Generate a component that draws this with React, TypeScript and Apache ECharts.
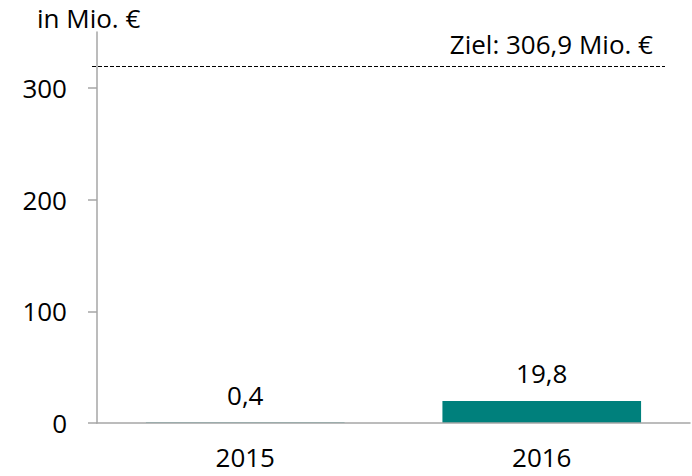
import React, { useEffect, useRef } from "react";
import * as echarts from "echarts";

const categories = ["2015", "2016"];
const values = [0.4, 19.8];
const yTicks = [0, 100, 200, 300];
const targetLevel = 319.5;
const targetLabel = "Ziel: 306,9 Mio. €";
const unitLabel = "in Mio. €";

const FONT = "'Open Sans', 'Liberation Sans', sans-serif";
const FS = 26;

export default function App() {
  const ref = useRef<HTMLDivElement>(null);
  useEffect(() => {
    if (!ref.current) return;
    const chart = echarts.init(ref.current, undefined, { renderer: "svg" });
    chart.setOption({
      animation: false,
      backgroundColor: "#ffffff",
      textStyle: { fontFamily: FONT, color: "#000" },
      title: {
        text: unitLabel,
        left: 37,
        top: 5,
        padding: 0,
        textStyle: { fontFamily: FONT, fontSize: FS, fontWeight: "normal", color: "#000" },
      },
      grid: { left: 97, right: 2, top: 32, bottom: 53, containLabel: false },
      xAxis: {
        type: "category",
        data: categories,
        z: 3,
        axisLine: { show: true, lineStyle: { color: "#a6a6a6", width: 1.5 } },
        axisTick: { show: false },
        axisLabel: { fontSize: FS, color: "#000", margin: 22, lineHeight: 24, fontFamily: FONT },
      },
      yAxis: {
        type: "value",
        min: 0,
        max: 350,
        interval: 100,
        splitLine: { show: false },
        axisLine: { show: true, lineStyle: { color: "#a6a6a6", width: 1.5 } },
        axisTick: { show: true, length: 9, customValues: yTicks, lineStyle: { color: "#a6a6a6", width: 1.5 } },
        axisLabel: { fontSize: FS, color: "#000", margin: 30, fontFamily: FONT, customValues: yTicks },
      },
      series: [
        {
          type: "bar",
          data: values,
          barWidth: "67%",
          itemStyle: { color: "#00807c" },
          label: {
            show: true,
            position: "top",
            distance: 15,
            fontSize: FS,
            color: "#000",
            fontFamily: FONT,
            formatter: (p: any) => String(p.value).replace(".", ","),
          },
          markLine: {
            silent: true,
            symbol: "none",
            lineStyle: { color: "#000", width: 1, type: [4, 2] },
            label: {
              show: true,
              position: "insideEndTop",
              distance: [12, 9],
              formatter: targetLabel,
              fontSize: FS,
              color: "#000",
              fontFamily: FONT,
            },
            data: [[{ x: 92, yAxis: targetLevel }, { x: 665, yAxis: targetLevel }]],
          },
        },
      ],
    });
    return () => chart.dispose();
  }, []);
  return (
    <div
      ref={ref}
      style={{ position: "fixed", left: 0, top: 0, width: 692, height: 476 }}
    />
  );
}
